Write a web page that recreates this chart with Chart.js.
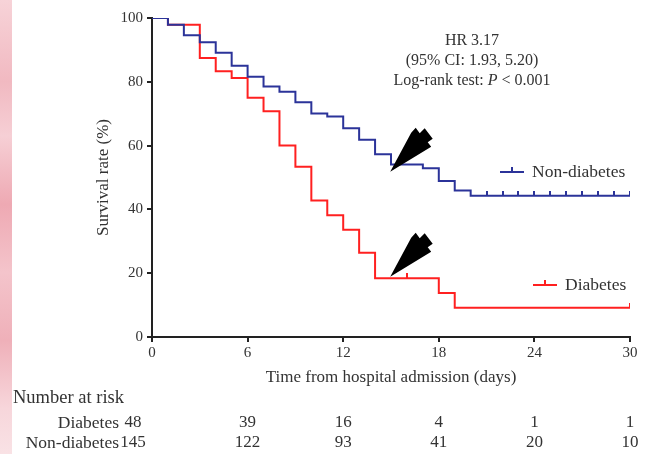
<!DOCTYPE html>
<html>
<head>
<meta charset="utf-8">
<script src="https://cdn.jsdelivr.net/npm/chart.js@4/dist/chart.umd.min.js"></script>
<style>
  html, body { margin: 0; padding: 0; background: #fff; }
  #wrap { position: relative; width: 645px; height: 454px; }
  /* pink strip from the source page on the left edge */
  #strip { position: absolute; left: 0; top: 0; width: 12px; height: 454px;
    background: linear-gradient(180deg, #f7d3d8 0%, #f1b9c1 18%, #f6cfd5 30%, #eea9b3 45%, #f4c4cb 60%, #efb0b9 75%, #f7d6db 90%, #f9e2e5 100%); }
  canvas { position: absolute; left: 0; top: 0; }
</style>
</head>
<body>
<div id="wrap">
  <div id="strip"></div>
  <canvas id="km" width="645" height="454"></canvas>
</div>
<script>
// Kaplan-Meier steps (day, survival %)
const nonDiabetesDays = [0, 1, 2, 3, 4, 5, 6, 7, 8, 9, 10, 11, 12, 13, 14, 15, 17, 18, 19, 20, 30];
const nonDiabetesSurv = [100, 97.9, 94.6, 92.4, 89.1, 85.0, 81.6, 78.5, 76.9, 73.6, 70.1, 69.1, 65.4, 61.8, 57.3, 54.1, 52.9, 48.9, 45.9, 44.3, 44.3];
const diabetesDays = [0, 1, 3, 4, 5, 6, 7, 8, 9, 10, 11, 12, 13, 14, 18, 19, 30];
const diabetesSurv = [100, 97.9, 87.5, 83.3, 81.2, 75.0, 70.8, 60.0, 53.4, 42.8, 38.2, 33.6, 26.4, 18.4, 13.8, 9.2, 9.2];

// censored observations
const nonDiabetesCensorDays = [21, 22, 23, 24, 25, 26, 27, 28, 29, 30];
const diabetesCensorDays = [16, 30];

// number at risk table
const riskDays = [0, 6, 12, 18, 24, 30];
const riskDiabetes = [48, 39, 16, 4, 1, 1];
const riskNonDiabetes = [145, 122, 93, 41, 20, 10];

// arrows point at these spots (day, %)
const arrowTips = [[14.95, 51.8], [14.95, 18.9]];

const BLUE = '#2b3399';
const RED = '#ff2020';
const TEXT = '#333';
const SERIF = '"Liberation Serif", "Times New Roman", serif';

function toPoints(xs, ys) {
    return xs.map((x, i) => ({ x: x, y: ys[i] }));
}

// survival value at a given day (step function)
function survAt(days, surv, d) {
    let v = surv[0];
    for (let i = 0; i < days.length; i++) {
        if (days[i] <= d) v = surv[i];
    }
    return v;
}

// small vertical tick sitting on top of the line
function tickImage(color) {
    const c = document.createElement('canvas');
    c.width = 2;
    c.height = 10;
    const g = c.getContext('2d');
    g.fillStyle = color;
    g.fillRect(0, 0, 2, 5);
    return c;
}

const extras = {
    id: 'extras',
    afterDraw(chart) {
        const ctx = chart.ctx;
        const xs = chart.scales.x;
        const ys = chart.scales.y;
        const area = chart.chartArea;
        ctx.save();

        // arrows
        ctx.fillStyle = '#000';
        const shape = [[0, 0], [21, -39], [25.5, -44], [29.5, -38.5], [34.5, -43.5], [42.5, -33], [37.5, -29.5], [41, -25]];
        arrowTips.forEach(t => {
            const px = xs.getPixelForValue(t[0]);
            const py = ys.getPixelForValue(t[1]);
            ctx.beginPath();
            shape.forEach((p, i) => {
                if (i === 0) ctx.moveTo(px + p[0], py + p[1]);
                else ctx.lineTo(px + p[0], py + p[1]);
            });
            ctx.closePath();
            ctx.fill();
        });

        // HR text block
        ctx.fillStyle = TEXT;
        ctx.textBaseline = 'middle';
        ctx.textAlign = 'center';
        ctx.font = '16px ' + SERIF;
        const cx = 472;
        ctx.fillText('HR 3.17', cx, area.top + 23);
        ctx.fillText('(95% CI: 1.93, 5.20)', cx, area.top + 43);
        // third line with italic P
        const a = 'Log-rank test: ', b = 'P', c = ' < 0.001';
        ctx.font = '16px ' + SERIF;
        const wa = ctx.measureText(a).width, wc = ctx.measureText(c).width;
        ctx.font = 'italic 16px ' + SERIF;
        const wb = ctx.measureText(b).width;
        let x0 = cx - (wa + wb + wc) / 2;
        const y3 = area.top + 63;
        ctx.textAlign = 'left';
        ctx.font = '16px ' + SERIF;
        ctx.fillText(a, x0, y3);
        ctx.font = 'italic 16px ' + SERIF;
        ctx.fillText(b, x0 + wa, y3);
        ctx.font = '16px ' + SERIF;
        ctx.fillText(c, x0 + wa + wb, y3);

        // legends next to each curve
        function legend(color, label, lx, ly) {
            ctx.strokeStyle = color;
            ctx.lineWidth = 2;
            ctx.beginPath();
            ctx.moveTo(lx, ly);
            ctx.lineTo(lx + 24, ly);
            ctx.moveTo(lx + 12, ly);
            ctx.lineTo(lx + 12, ly - 5);
            ctx.stroke();
            ctx.fillStyle = TEXT;
            ctx.font = '17.5px ' + SERIF;
            ctx.textAlign = 'left';
            ctx.fillText(label, lx + 32, ly);
        }
        legend(BLUE, 'Non-diabetes', 500, 172);
        legend(RED, 'Diabetes', 533, 285);

        // number at risk
        ctx.fillStyle = TEXT;
        ctx.font = '18.5px ' + SERIF;
        ctx.textAlign = 'left';
        ctx.fillText('Number at risk', 13, 398);
        ctx.font = '17.5px ' + SERIF;
        ctx.textAlign = 'right';
        ctx.fillText('Diabetes', 119, 423);
        ctx.fillText('Non-diabetes', 119, 443);
        ctx.font = '17px ' + SERIF;
        ctx.textAlign = 'center';
        riskDays.forEach((d, i) => {
            let px = xs.getPixelForValue(d);
            if (i === 0) px -= 19;
            ctx.fillText(String(riskDiabetes[i]), px, 423);
            ctx.fillText(String(riskNonDiabetes[i]), px, 443);
        });
        ctx.restore();
    }
};

const ctx = document.getElementById('km').getContext('2d');

new Chart(ctx, {
    type: 'line',
    data: {
        datasets: [
            {
                label: 'Non-diabetes',
                data: toPoints(nonDiabetesDays, nonDiabetesSurv),
                borderColor: BLUE,
                borderWidth: 2,
                stepped: true,
                pointRadius: 0,
                fill: false
            },
            {
                label: 'Diabetes',
                data: toPoints(diabetesDays, diabetesSurv),
                borderColor: RED,
                borderWidth: 2,
                stepped: true,
                pointRadius: 0,
                fill: false
            },
            {
                type: 'scatter',
                label: 'Non-diabetes censored',
                data: nonDiabetesCensorDays.map(d => ({ x: d, y: survAt(nonDiabetesDays, nonDiabetesSurv, d) })),
                pointStyle: tickImage(BLUE),
                showLine: false
            },
            {
                type: 'scatter',
                label: 'Diabetes censored',
                data: diabetesCensorDays.map(d => ({ x: d, y: survAt(diabetesDays, diabetesSurv, d) })),
                pointStyle: tickImage(RED),
                showLine: false
            }
        ]
    },
    options: {
        responsive: false,
        animation: false,
        layout: { padding: { left: 0, right: 15, top: 18, bottom: 0 } },
        plugins: {
            legend: { display: false },
            tooltip: { enabled: false }
        },
        scales: {
            x: {
                type: 'linear',
                min: 0,
                max: 30,
                afterFit: function(scale) { scale.height = 117; },
                ticks: {
                    stepSize: 6,
                    color: TEXT,
                    padding: 2,
                    font: { family: SERIF, size: 15 }
                },
                grid: { drawOnChartArea: false, drawTicks: true, tickLength: 5, color: '#222', lineWidth: 2 },
                border: { color: '#222', width: 2 },
                title: {
                    display: true,
                    text: 'Time from hospital admission (days)',
                    color: TEXT,
                    font: { family: SERIF, size: 17 },
                    padding: { top: 0, bottom: 66 }
                }
            },
            y: {
                min: 0,
                max: 100,
                afterFit: function(scale) { scale.width = 152; },
                ticks: {
                    stepSize: 20,
                    color: TEXT,
                    padding: 4,
                    font: { family: SERIF, size: 15 }
                },
                grid: { drawOnChartArea: false, drawTicks: true, tickLength: 5, color: '#222', lineWidth: 2 },
                border: { color: '#222', width: 2 },
                title: {
                    display: true,
                    text: 'Survival rate (%)',
                    color: TEXT,
                    font: { family: SERIF, size: 17 },
                    padding: { top: 93, bottom: 0 }
                }
            }
        }
    },
    plugins: [extras]
});
</script>
</body>
</html>
